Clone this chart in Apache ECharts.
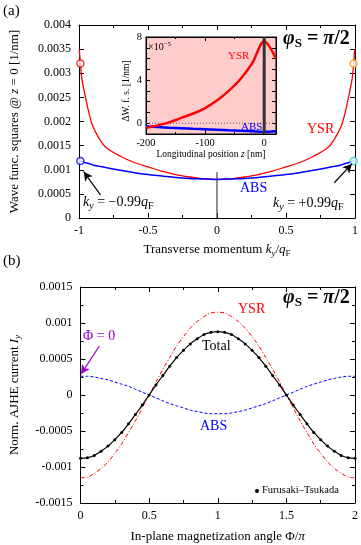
<!DOCTYPE html>
<html><head><meta charset="utf-8">
<script src="https://cdn.jsdelivr.net/npm/echarts/dist/echarts.min.js"></script>
<style>html,body{margin:0;padding:0;background:#fff}#c{width:361px;height:545px}</style>
</head><body><div id="c"></div>
<script>
// ---------- Panel (a) main: wave function squares vs k_y/q_F ----------
const kVals = [-0.998,-0.99,-0.98,-0.96,-0.93,-0.9,-0.85,-0.8,-0.7,-0.6,-0.5,-0.4,-0.3,-0.2,-0.1,0,0.1,0.2,0.3,0.4,0.5,0.6,0.7,0.8,0.85,0.9,0.93,0.96,0.98,0.99,0.998];
const ysrA = [0.0035,0.0032,0.0029,0.0026,0.0022,0.0019,0.00163,0.00145,0.00128,0.00115,0.00106,0.00097,0.0009,0.00085,0.00081,0.0008,0.00081,0.00085,0.0009,0.00097,0.00106,0.00115,0.00128,0.00145,0.00163,0.0019,0.0022,0.0026,0.0029,0.0032,0.0035];
const absA = [0.0012,0.00118,0.00117,0.00115,0.00113,0.0011,0.00107,0.00104,0.00099,0.00094,0.0009,0.00087,0.00084,0.00082,0.00081,0.0008,0.00081,0.00082,0.00084,0.00087,0.0009,0.00094,0.00099,0.00104,0.00107,0.0011,0.00113,0.00115,0.00117,0.00118,0.0012];
const markerK = [-0.99, 0.99];
const markerYSR = [0.0032, 0.0032];
const markerABS = [0.00118, 0.00118];
const zeroLineTop = 0.00095;

// ---------- Inset: ΔW.f.s. vs z ----------
const zVals = [-200,-180,-160,-140,-120,-100,-80,-60,-40,-20,0,20];
const ysrInset = [-0.45,-0.2,0.1,0.5,0.9,1.4,2.1,3.0,4.1,5.6,7.6,6.0];
const absInset = [-0.3,-0.36,-0.42,-0.47,-0.52,-0.56,-0.6,-0.65,-0.7,-0.75,-0.8,-0.75];
const insetYLabels = [0, 4, 8];
const insetYTicks = [0, 1, 2, 3, 4, 5, 6, 7, 8];

// ---------- Panel (b): normalized AJHE current vs Φ/π ----------
const phiVals = [0,0.05,0.1,0.15,0.2,0.25,0.3,0.35,0.4,0.45,0.5,0.55,0.6,0.65,0.7,0.75,0.8,0.85,0.9,0.95,1,1.05,1.1,1.15,1.2,1.25,1.3,1.35,1.4,1.45,1.5,1.55,1.6,1.65,1.7,1.75,1.8,1.85,1.9,1.95,2];
const totalB = [-0.00088,-0.00087,-0.00084,-0.00078,-0.00071,-0.00062,-0.00052,-0.0004,-0.00027,-0.00014,0,0.00014,0.00027,0.0004,0.00052,0.00062,0.00071,0.00078,0.00084,0.00087,0.00088,0.00087,0.00084,0.00078,0.00071,0.00062,0.00052,0.0004,0.00027,0.00014,0,-0.00014,-0.00027,-0.0004,-0.00052,-0.00062,-0.00071,-0.00078,-0.00084,-0.00087,-0.00088];
const ysrB = [-0.00115,-0.00114,-0.00109,-0.00102,-0.00093,-0.00081,-0.00068,-0.00052,-0.00036,-0.00018,0,0.00018,0.00036,0.00052,0.00068,0.00081,0.00093,0.00102,0.00109,0.00114,0.00115,0.00114,0.00109,0.00102,0.00093,0.00081,0.00068,0.00052,0.00036,0.00018,0,-0.00018,-0.00036,-0.00052,-0.00068,-0.00081,-0.00093,-0.00102,-0.00109,-0.00114,-0.00115];
const absB = [0.00026,0.00026,0.00025,0.00023,0.00021,0.00018,0.00015,0.00012,0.00008,0.00004,0,-0.00004,-0.00008,-0.00012,-0.00015,-0.00018,-0.00021,-0.00023,-0.00025,-0.00026,-0.00026,-0.00026,-0.00025,-0.00023,-0.00021,-0.00018,-0.00015,-0.00012,-0.00008,-0.00004,0,0.00004,0.00008,0.00012,0.00015,0.00018,0.00021,0.00023,0.00025,0.00026,0.00026];

const F = '"Liberation Serif","DejaVu Serif",serif';
const zip = (a, b) => a.map((v, i) => [v, b[i]]);

const richBase = {
  n: {fontFamily: F, fontSize: 13, color: '#000'},
  i: {fontFamily: F, fontSize: 13, fontStyle: 'italic', color: '#000'},
  si: {fontFamily: F, fontSize: 9, fontStyle: 'italic', color: '#000', padding: [7, 0, 0, 0]},
  s: {fontFamily: F, fontSize: 9, color: '#000', padding: [7, 0, 0, 0]}
};

function xAx(grid, min, max, interval, opts) {
  return Object.assign({
    type: 'value', gridIndex: grid, min: min, max: max, interval: interval, position: 'bottom',
    axisLine: {show: true, onZero: false, lineStyle: {color: '#000', width: 1}},
    axisTick: {show: true, inside: true, length: 5, lineStyle: {color: '#000'}},
    minorTick: {show: true, splitNumber: 2, length: 3, lineStyle: {color: '#000'}},
    axisLabel: {show: true, inside: false, margin: 7, fontFamily: F, fontSize: 12, color: '#000'},
    splitLine: {show: false}, minorSplitLine: {show: false}
  }, opts || {});
}
function yAx(grid, min, max, interval, opts) {
  return Object.assign({
    type: 'value', gridIndex: grid, min: min, max: max, interval: interval, position: 'left',
    axisLine: {show: true, onZero: false, lineStyle: {color: '#000', width: 1}},
    axisTick: {show: true, inside: true, length: 5, lineStyle: {color: '#000'}},
    minorTick: {show: false},
    axisLabel: {show: true, margin: 8, fontFamily: F, fontSize: 12, color: '#000'},
    splitLine: {show: false}, minorSplitLine: {show: false}
  }, opts || {});
}

const chart = echarts.init(document.getElementById('c'), null, {renderer: 'canvas'});

const graphics = [
  {type: 'text', x: 3, y: 4, z: 20, style: {text: '(a)', font: '15px ' + F, fill: '#000'}},
  {type: 'text', x: 3, y: 254, z: 20, style: {text: '(b)', font: '15px ' + F, fill: '#000'}},
  // inset y-axis title
  {type: 'text', x: 126, y: 91, rotation: Math.PI / 2, z: 20,
    style: {text: 'ΔW. f. s. [1/nm]', font: '9.5px ' + F, fill: '#000', align: 'center', verticalAlign: 'middle', textAlign: 'center', textVerticalAlign: 'middle'}},
  // phi_S labels
  {type: 'text', x: 283, y: 28, z: 20, style: {text: '{p|φ}{s|S}{e| = }{p|π}{e|/2}', fill: '#000',
    rich: {p: {fontFamily: F, fontSize: 20, fontWeight: 'bold', fontStyle: 'italic'},
           s: {fontFamily: F, fontSize: 13, fontWeight: 'bold', padding: [9, 0, 0, 0]},
           e: {fontFamily: F, fontSize: 20, fontWeight: 'bold'}}}},
  {type: 'text', x: 283, y: 287, z: 20, style: {text: '{p|φ}{s|S}{e| = }{p|π}{e|/2}', fill: '#000',
    rich: {p: {fontFamily: F, fontSize: 20, fontWeight: 'bold', fontStyle: 'italic'},
           s: {fontFamily: F, fontSize: 13, fontWeight: 'bold', padding: [9, 0, 0, 0]},
           e: {fontFamily: F, fontSize: 20, fontWeight: 'bold'}}}},
  // panel (a) labels
  {type: 'text', x: 307, y: 122, z: 20, style: {text: 'YSR', font: '14px ' + F, fill: '#ff0000'}},
  {type: 'text', x: 240, y: 181, z: 20, style: {text: 'ABS', font: '14px ' + F, fill: '#0000ff'}},
  {type: 'text', x: 83, y: 194, z: 20, style: {text: '{i|k}{si|y}{n| = −0.99}{i|q}{s|F}',
    rich: {n: {fontFamily: F, fontSize: 14, color: '#000'}, i: {fontFamily: F, fontSize: 14, fontStyle: 'italic', color: '#000'},
           si: {fontFamily: F, fontSize: 10, fontStyle: 'italic', color: '#000', padding: [7, 0, 0, 0]},
           s: {fontFamily: F, fontSize: 10, color: '#000', padding: [7, 0, 0, 0]}}}},
  {type: 'text', x: 273, y: 195, z: 20, style: {text: '{i|k}{si|y}{n| = +0.99}{i|q}{s|F}',
    rich: {n: {fontFamily: F, fontSize: 14, color: '#000'}, i: {fontFamily: F, fontSize: 14, fontStyle: 'italic', color: '#000'},
           si: {fontFamily: F, fontSize: 10, fontStyle: 'italic', color: '#000', padding: [7, 0, 0, 0]},
           s: {fontFamily: F, fontSize: 10, color: '#000', padding: [7, 0, 0, 0]}}}},
  // inset labels
  {type: 'text', x: 148, y: 41, z: 20, style: {text: '{n|×10}{u|−5}',
    rich: {n: {fontFamily: F, fontSize: 10, color: '#000'}, u: {fontFamily: F, fontSize: 7, color: '#000', padding: [0, 0, 6, 0]}}}},
  {type: 'text', x: 228, y: 51, z: 20, style: {text: 'YSR', font: '11px ' + F, fill: '#ff0000'}},
  {type: 'text', x: 241, y: 122, z: 20, style: {text: 'ABS', font: '11px ' + F, fill: '#0000ff'}},
  // panel (b) labels
  {type: 'text', x: 238, y: 302, z: 20, style: {text: 'YSR', font: '14px ' + F, fill: '#ff0000'}},
  {type: 'text', x: 202, y: 339, z: 20, style: {text: 'Total', font: '14px ' + F, fill: '#000'}},
  {type: 'text', x: 200, y: 419, z: 20, style: {text: 'ABS', font: '14px ' + F, fill: '#0000ff'}},
  {type: 'text', x: 83, y: 329, z: 20, style: {text: 'Φ = 0', font: '14px ' + F, fill: '#9900cc'}},
  {type: 'circle', z: 20, shape: {cx: 257, cy: 491, r: 2}, style: {fill: '#000'}},
  {type: 'text', x: 262, y: 485, z: 20, style: {text: 'Furusaki–Tsukada', font: '10.5px ' + F, fill: '#000'}}
];

const option = {
  animation: false,
  backgroundColor: '#fff',
  grid: [
    {left: 78, top: 25, width: 278, height: 193, show: false},
    {left: 146, top: 37, width: 130, height: 97, show: true, backgroundColor: '#ffcccc', borderColor: '#000', borderWidth: 1, z: 5},
    {left: 78, top: 287, width: 278, height: 216, show: false}
  ],
  xAxis: [
    xAx(0, -1, 1, 0.5, {
      name: '{n|Transverse momentum }{i|k}{si|y}{n|/}{i|q}{s|F}', nameLocation: 'middle', nameGap: 24,
      nameTextStyle: {rich: richBase}
    }),
    xAx(0, -1, 1, 0.5, {position: 'top', axisLabel: {show: false}}),
    xAx(1, -200, 20, 100, {
      z: 6,
      axisTick: {show: true, inside: true, length: 4, lineStyle: {color: '#000'}},
      minorTick: {show: true, splitNumber: 2, length: 2, lineStyle: {color: '#000'}},
      axisLabel: {margin: 4, interval: 0, fontFamily: F, fontSize: 10.5, color: '#000', formatter: v => (v > 0 ? '' : String(v))},
      name: '{n|Longitudinal position }{i|z}{n| [nm]}', nameLocation: 'middle', nameGap: 15,
      nameTextStyle: {rich: {n: {fontFamily: F, fontSize: 9.5, color: '#000'}, i: {fontFamily: F, fontSize: 9.5, fontStyle: 'italic', color: '#000'}}}
    }),
    xAx(1, -200, 20, 100, {z: 6, position: 'top', axisLabel: {show: false},
      axisTick: {show: true, inside: true, length: 4, lineStyle: {color: '#000'}},
      minorTick: {show: true, splitNumber: 2, length: 2, lineStyle: {color: '#000'}}}),
    xAx(2, 0, 2, 0.5, {
      name: '{n|In-plane magnetization angle Φ/}{i|π}', nameLocation: 'middle', nameGap: 27,
      nameTextStyle: {rich: richBase}
    }),
    xAx(2, 0, 2, 0.5, {position: 'top', axisLabel: {show: false}})
  ],
  yAxis: [
    yAx(0, 0, 0.004, 0.0005, {
      name: '{n|Wave func. squares @ }{i|z}{n| = 0 [1/nm]}', nameLocation: 'middle', nameGap: 58, nameRotate: 90,
      nameTextStyle: {rich: richBase}
    }),
    yAx(0, 0, 0.004, 0.0005, {position: 'right', axisLabel: {show: false}}),
    yAx(1, -1, 8, 1, {
      z: 6,
      axisTick: {show: true, inside: true, length: 4, customValues: insetYTicks, lineStyle: {color: '#000'}},
      axisLabel: {show: false}
    }),
    yAx(1, -1, 8, 1, {z: 6, position: 'right', axisLabel: {show: false},
      axisTick: {show: true, inside: true, length: 4, customValues: insetYTicks, lineStyle: {color: '#000'}}}),
    yAx(2, -0.0015, 0.0015, 0.0005, {
      minorTick: {show: true, splitNumber: 2, length: 3, lineStyle: {color: '#000'}},
      name: '{n|Norm. AJHE current }{i|I}{si|y}', nameLocation: 'middle', nameGap: 58, nameRotate: 90,
      nameTextStyle: {rich: richBase}
    }),
    yAx(2, -0.0015, 0.0015, 0.0005, {position: 'right', axisLabel: {show: false},
      minorTick: {show: true, splitNumber: 2, length: 3, lineStyle: {color: '#000'}}})
  ],
  series: [
    // panel (a)
    {type: 'line', xAxisIndex: 0, yAxisIndex: 0, data: [[0, 0], [0, zeroLineTop]], symbol: 'none',
      lineStyle: {color: '#444', width: 1.2}, z: 2},
    {type: 'line', xAxisIndex: 0, yAxisIndex: 0, data: zip(kVals, ysrA), symbol: 'none', smooth: 0.3,
      lineStyle: {color: '#ff0000', width: 1.3}, z: 3},
    {type: 'line', xAxisIndex: 0, yAxisIndex: 0, data: zip(kVals, absA), symbol: 'none', smooth: 0.3,
      lineStyle: {color: '#0000ff', width: 1.5}, z: 3,
      markLine: {silent: true, symbol: ['none', 'arrow'], symbolSize: [7, 9], label: {show: false},
        lineStyle: {color: '#000', width: 1.2, type: 'solid'},
        data: [
          [{coord: [-0.845, 0.00048]}, {coord: [-0.966, 0.00096]}],
          [{coord: [0.85, 0.00073]}, {coord: [0.977, 0.00112]}]
        ]}},
    {type: 'scatter', xAxisIndex: 0, yAxisIndex: 0, data: [[markerK[0], markerYSR[0]]], symbol: 'circle', symbolSize: 7,
      itemStyle: {color: '#fff', borderColor: '#ff0000', borderWidth: 1.5}, z: 4},
    {type: 'scatter', xAxisIndex: 0, yAxisIndex: 0, data: [[markerK[1], markerYSR[1]]], symbol: 'circle', symbolSize: 7,
      itemStyle: {color: '#fff', borderColor: '#ff9900', borderWidth: 1.5}, z: 4},
    {type: 'scatter', xAxisIndex: 0, yAxisIndex: 0, data: [[markerK[0], markerABS[0]]], symbol: 'circle', symbolSize: 7,
      itemStyle: {color: '#fff', borderColor: '#0000ff', borderWidth: 1.5}, z: 4},
    {type: 'scatter', xAxisIndex: 0, yAxisIndex: 0, data: [[markerK[1], markerABS[1]]], symbol: 'circle', symbolSize: 7,
      itemStyle: {color: '#fff', borderColor: '#22cccc', borderWidth: 1.5}, z: 4},
    // inset
    {type: 'line', xAxisIndex: 2, yAxisIndex: 2, data: [[-200, 0], [20, 0]], symbol: 'none',
      lineStyle: {color: '#555', width: 1, type: [1, 2]}, z: 6},
    {type: 'line', xAxisIndex: 2, yAxisIndex: 2, data: zip(zVals, absInset), symbol: 'none', smooth: 0.3,
      lineStyle: {color: '#0000ff', width: 2.5}, z: 7},
    {type: 'line', xAxisIndex: 2, yAxisIndex: 2, data: zip(zVals, ysrInset), symbol: 'none', smooth: 0.3,
      lineStyle: {color: '#ff0000', width: 2.5}, z: 7},
    {type: 'line', xAxisIndex: 2, yAxisIndex: 2, data: [[0, -1], [0, 8]], symbol: 'none',
      lineStyle: {color: '#333', width: 3}, z: 8},
    // panel (b)
    {type: 'line', xAxisIndex: 4, yAxisIndex: 4, data: zip(phiVals, absB), symbol: 'none', smooth: 0.3,
      lineStyle: {color: '#0000ff', width: 1, type: [3, 2]}, z: 3,
      markLine: {silent: true, symbol: ['none', 'arrow'], symbolSize: [7, 9], label: {show: false},
        lineStyle: {color: '#9900cc', width: 1.2, type: 'solid'},
        data: [[{coord: [0.137, 0.00068]}, {coord: [0.004, 0.00029]}]]}},
    {type: 'line', xAxisIndex: 4, yAxisIndex: 4, data: zip(phiVals, ysrB), symbol: 'none', smooth: 0.3,
      lineStyle: {color: '#ff0000', width: 1, type: [4, 2, 1, 2]}, z: 3},
    {type: 'line', xAxisIndex: 4, yAxisIndex: 4, data: zip(phiVals, totalB), symbol: 'circle', symbolSize: 3, showSymbol: true,
      smooth: 0.3, itemStyle: {color: '#000'}, lineStyle: {color: '#000', width: 1.2}, z: 4}
  ],
  graphic: graphics
};
chart.setOption(option);

// inset y tick labels placed through the inset's own scale
const insetLabelEls = insetYLabels.map(v => {
  const p = chart.convertToPixel({xAxisIndex: 2, yAxisIndex: 2}, [-200, v]);
  return {type: 'text', x: p[0] - 4, y: p[1], z: 20,
    style: {text: String(v), font: '10.5px ' + F, fill: '#000', align: 'right', verticalAlign: 'middle', textAlign: 'right', textVerticalAlign: 'middle'}};
});
chart.setOption({graphic: graphics.concat(insetLabelEls)});
</script>
</body></html>
